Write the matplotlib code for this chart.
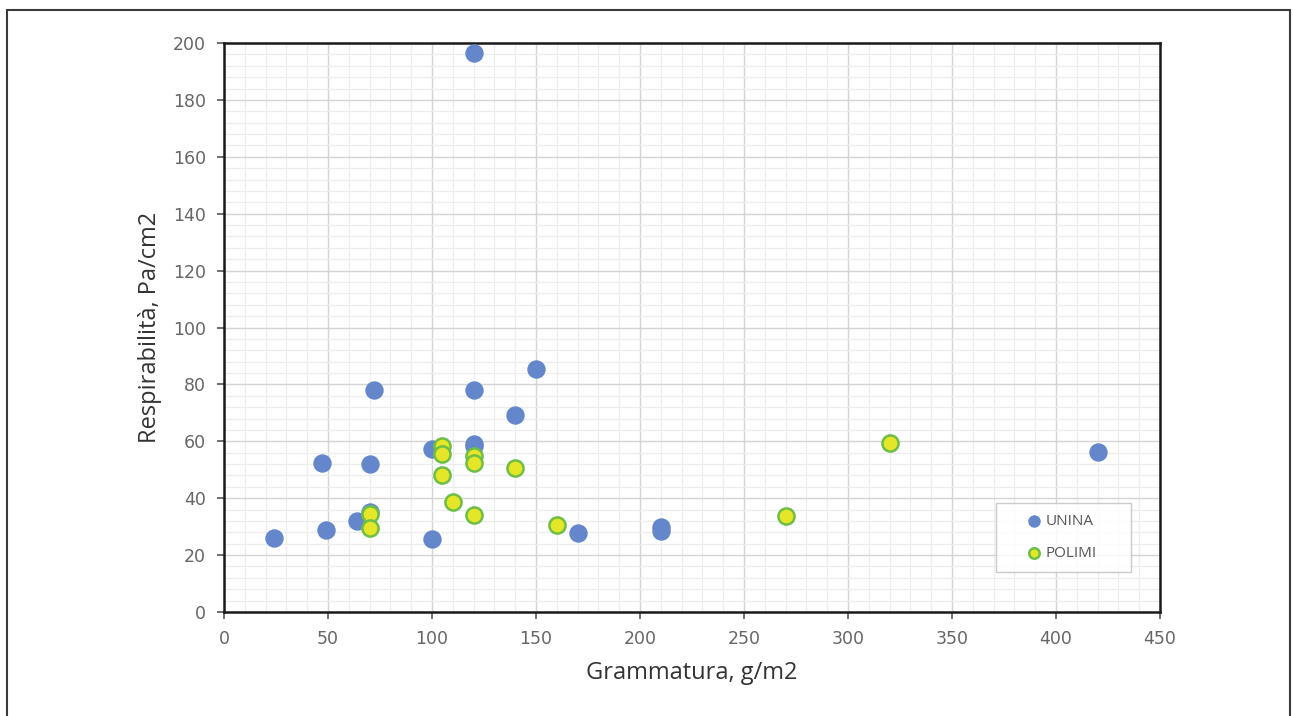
import numpy as np
import matplotlib
matplotlib.use("Agg")
import matplotlib.pyplot as plt
from matplotlib.patches import Rectangle
from matplotlib.ticker import MultipleLocator

# UNINA samples (grammatura g/m2, respirabilita Pa/cm2)
unina_x = [120, 24, 49, 47, 64, 70, 70, 72, 100, 100, 120, 120, 120, 140, 150, 170, 210, 210, 420]
unina_y = [196.5, 26, 28.8, 52.4, 32, 52, 35, 78, 57.3, 25.7, 78, 59, 58.5, 69.2, 85.4, 27.9, 30, 28.3, 56.1]

# POLIMI samples
polimi_x = [105, 105, 105, 110, 120, 120, 120, 70, 70, 140, 160, 270, 320]
polimi_y = [58.3, 55.4, 48.2, 38.5, 54.8, 52.4, 34, 34.4, 29.4, 50.5, 30.6, 33.6, 59.3]

fig = plt.figure(figsize=(12.93, 7.16), dpi=100)
fig.patches.append(Rectangle((7 / 1293, -0.05), 1283 / 1293, 1.05 - 10 / 716,
                             transform=fig.transFigure, fill=False,
                             edgecolor="#3a3a3a", linewidth=1.5))

ax = fig.add_axes([224 / 1293, 1 - 612 / 716, 936 / 1293, 569 / 716])

ax.scatter(unina_x, unina_y, s=150, color="#6487CB", edgecolors="#6487CB",
           linewidths=1, label="UNINA", zorder=3)
ax.scatter(polimi_x, polimi_y, s=135, color="#E6E628", edgecolors="#6DBE45",
           linewidths=1.8, label="POLIMI", zorder=4)

ax.set_xlim(0, 450)
ax.set_ylim(0, 200)
ax.xaxis.set_major_locator(MultipleLocator(50))
ax.yaxis.set_major_locator(MultipleLocator(20))
ax.xaxis.set_minor_locator(MultipleLocator(10))
ax.yaxis.set_minor_locator(MultipleLocator(4))
ax.grid(which="major", color="#D4D4D4", linewidth=1.0, zorder=0)
ax.grid(which="minor", color="#EDEDED", linewidth=0.9, zorder=0)
ax.set_axisbelow(True)

for sp in ax.spines.values():
    sp.set_linewidth(1.8)
    sp.set_color("#1a1a1a")

tick_font = ["Liberation Sans Narrow", "DejaVu Sans"]
ax.tick_params(which="major", direction="out", length=5, width=1.2,
               color="#555555", labelcolor="#666666", labelsize=12.5, pad=8)
ax.tick_params(which="minor", length=0)
for lab in ax.get_xticklabels() + ax.get_yticklabels():
    lab.set_family(tick_font)

ax.set_xlabel("Grammatura, g/m2", fontsize=17, family="Open Sans",
              color="#333333", labelpad=9)
ax.set_ylabel("Respirabilità, Pa/cm2", fontsize=17, family="Open Sans",
              color="#333333", labelpad=8)

leg = ax.legend(loc="lower left", bbox_to_anchor=(0.8248, 0.0703, 0.1442, 0.1142),
                mode="expand", frameon=True, fancybox=False, edgecolor="#BFBFBF",
                markerscale=0.65, handletextpad=-0.95, labelspacing=1.1,
                borderpad=0.72, borderaxespad=0, handlelength=3.5,
                prop={"family": "Open Sans", "size": 11})
leg.get_frame().set_linewidth(1.0)
for t in leg.get_texts():
    t.set_color("#555555")

fig.savefig("out.png", dpi=100)
